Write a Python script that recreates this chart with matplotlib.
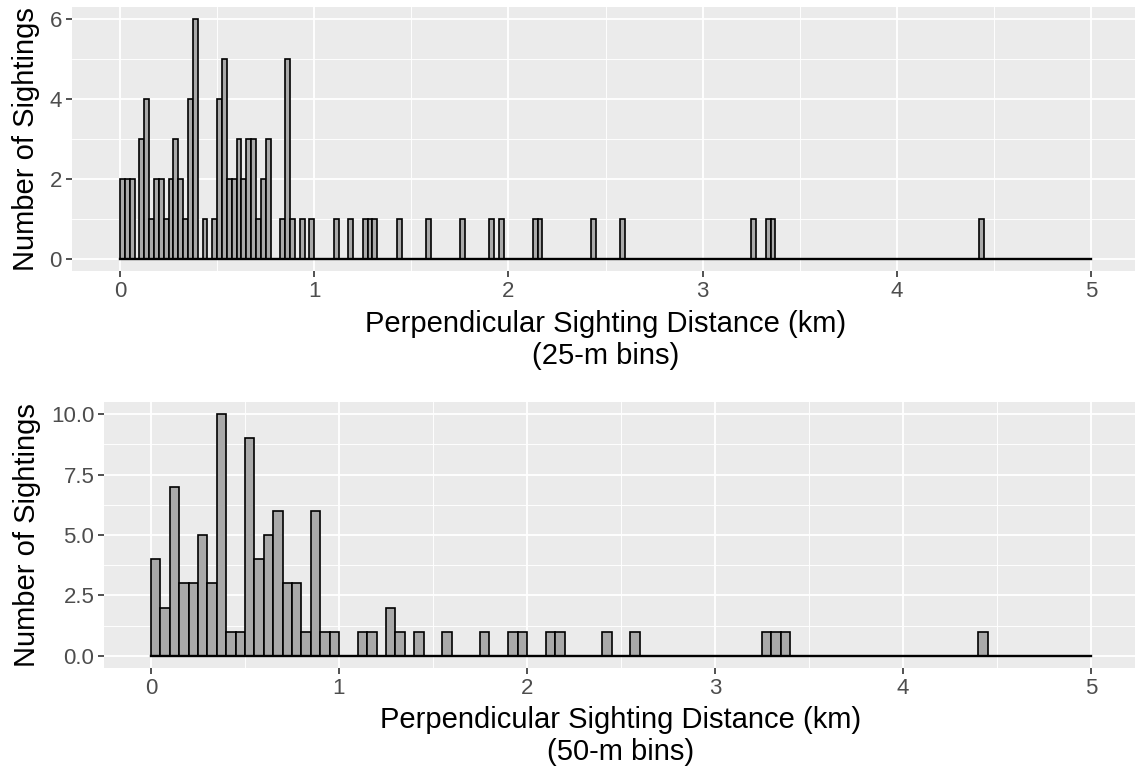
import numpy as np
import matplotlib.pyplot as plt

# 25-m bins: counts for the first 40 bins (0 - 1 km)
top_counts_near = [2, 2, 2, 0, 3, 4, 1, 2, 2, 1,
                   2, 3, 2, 1, 4, 6, 0, 1, 0, 1,
                   4, 5, 2, 2, 3, 2, 3, 3, 1, 2,
                   3, 0, 0, 1, 5, 1, 0, 1, 0, 1]
# 25-m bins beyond 1 km holding a single sighting (bin index)
top_single_bins = [44, 47, 50, 51, 52, 57, 63, 70, 76, 78, 85, 86,
                   97, 103, 130, 133, 134, 177]

# 50-m bins: counts for the first 20 bins (0 - 1 km)
bot_counts_near = [4, 2, 7, 3, 3, 5, 3, 10, 1, 1,
                   9, 4, 5, 6, 3, 3, 1, 6, 1, 1]
# 50-m bins beyond 1 km: (bin index, count)
bot_far_bins = [22, 23, 25, 26, 28, 31, 35, 38, 39, 42, 43, 48, 51,
                65, 66, 67, 88]
bot_far_counts = [1, 1, 2, 1, 1, 1, 1, 1, 1, 1, 1, 1, 1,
                  1, 1, 1, 1]

xlab = "Perpendicular Sighting Distance (km)"
ylab = "Number of Sightings"


def full_counts(nbins, near, idx, vals):
    c = np.zeros(nbins)
    c[:len(near)] = near
    for i, v in zip(idx, vals):
        c[i] = v
    return c


top = full_counts(200, top_counts_near, top_single_bins, [1] * len(top_single_bins))
bot = full_counts(100, bot_counts_near, bot_far_bins, bot_far_counts)

plt.rcParams['font.family'] = ['Liberation Sans', 'DejaVu Sans']

W, H = 1135, 774
fig = plt.figure(figsize=(W / 100, H / 100), dpi=100)


def px_axes(l, t, r, b):
    return fig.add_axes([l / W, 1 - b / H, (r - l) / W, (b - t) / H])


def style(ax, yticks, yminor, ylim, fmt):
    ax.set_facecolor('#EBEBEB')
    for s in ax.spines.values():
        s.set_visible(False)
    ax.set_xlim(-0.25, 5.25)
    ax.set_ylim(*ylim)
    ax.set_xticks([0, 1, 2, 3, 4, 5])
    ax.set_xticks([0.5, 1.5, 2.5, 3.5, 4.5], minor=True)
    ax.set_yticks(yticks)
    ax.set_yticklabels([fmt.format(v) for v in yticks])
    ax.set_yticks(yminor, minor=True)
    ax.grid(which='major', color='white', linewidth=1.3)
    ax.grid(which='minor', color='white', linewidth=0.65)
    ax.set_axisbelow(True)
    ax.tick_params(which='major', length=4, width=1.2, color='#333333',
                   labelsize=16, labelcolor='#4D4D4D', pad=3)
    ax.tick_params(which='minor', length=0)


ax1 = px_axes(71.5, 7, 1139.5, 271)
edges1 = np.arange(200) * 0.025
ax1.bar(edges1, top, width=0.025, align='edge', color='#A9A9A9',
        edgecolor='black', linewidth=1.2)
ax1.plot([0, 5], [0, 0], color='black', linewidth=1.7)
style(ax1, [0, 2, 4, 6], [1, 3, 5], (-0.3, 6.3), '{:g}')
ax1.set_ylabel(ylab, fontsize=21, labelpad=7)
ax1.set_xlabel(xlab + "\n(25-m bins)", fontsize=21, labelpad=6,
               linespacing=1.2)

ax2 = px_axes(104, 402, 1138, 668)
edges2 = np.arange(100) * 0.05
ax2.bar(edges2, bot, width=0.05, align='edge', color='#A9A9A9',
        edgecolor='black', linewidth=1.2)
ax2.plot([0, 5], [0, 0], color='black', linewidth=1.7)
style(ax2, [0, 2.5, 5, 7.5, 10], [1.25, 3.75, 6.25, 8.75], (-0.5, 10.5), '{:.1f}')
ax2.set_ylabel(ylab, fontsize=21, labelpad=7)
ax2.set_xlabel(xlab + "\n(50-m bins)", fontsize=21, labelpad=5,
               linespacing=1.2)

fig.savefig('out.png', dpi=100)
